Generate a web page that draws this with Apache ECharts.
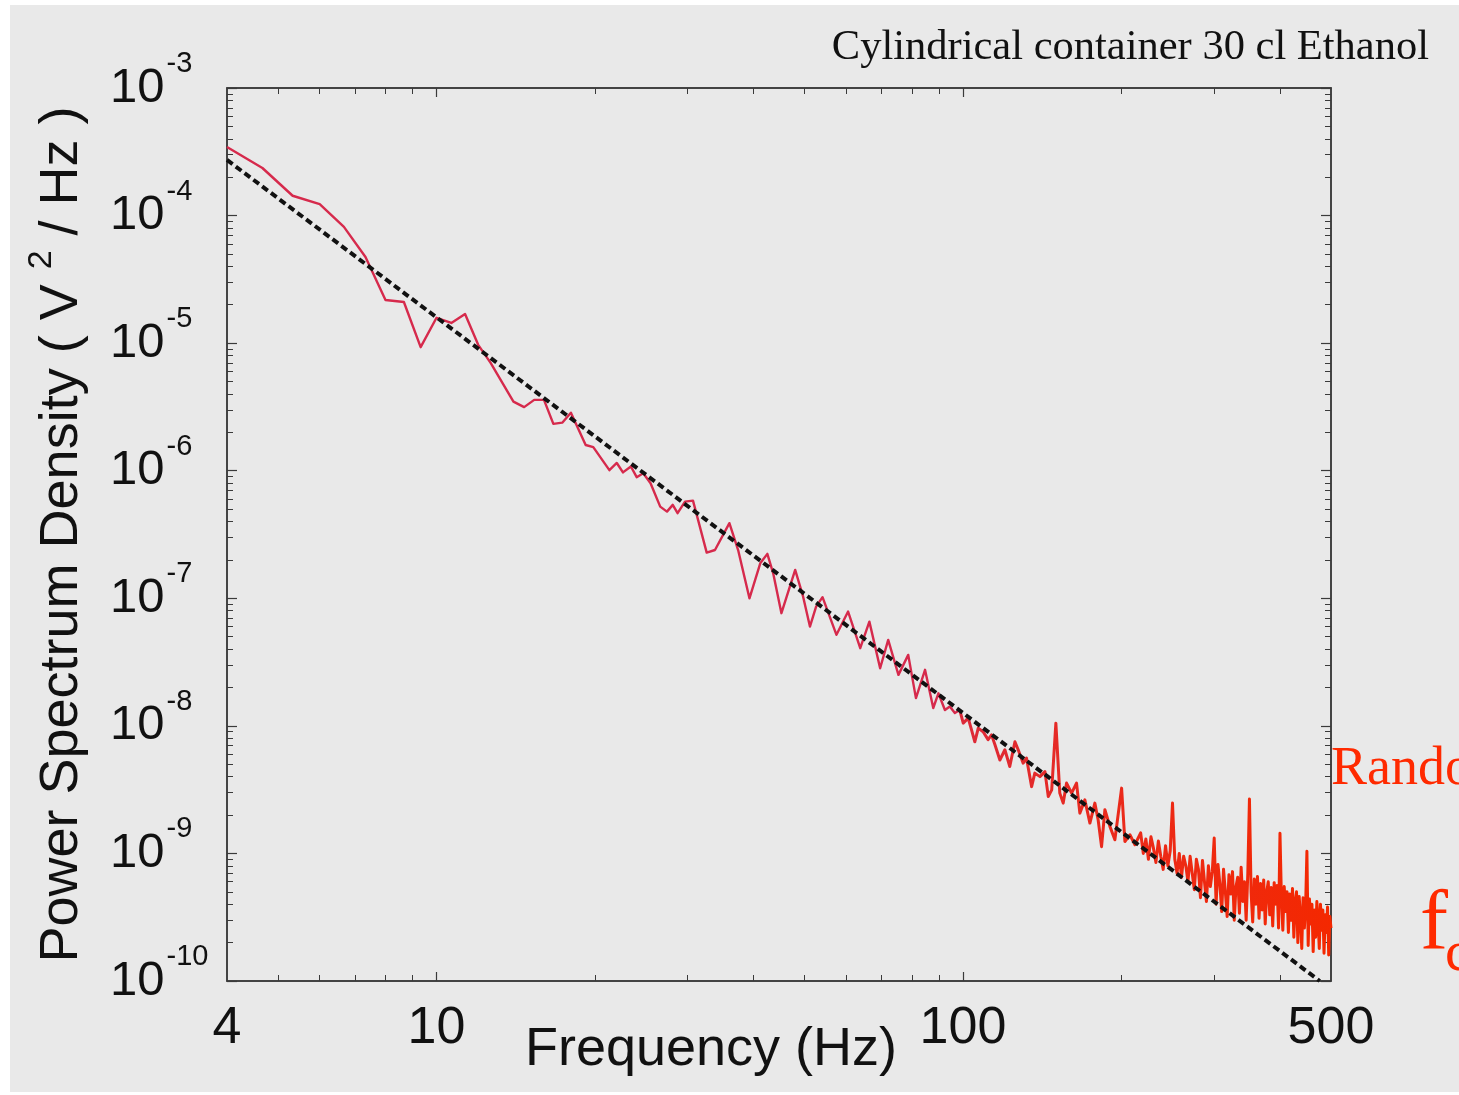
<!DOCTYPE html>
<html>
<head>
<meta charset="utf-8">
<script src="https://cdn.jsdelivr.net/npm/echarts@6.0.0/dist/echarts.min.js"></script>
<style>
html,body{margin:0;padding:0;background:#ffffff;width:1459px;height:1095px;overflow:hidden;}
#panel{position:absolute;left:10px;top:5px;width:1449px;height:1087px;background:#e9e9e9;}
#chart{position:absolute;left:0;top:0;width:1459px;height:1095px;}
</style>
</head>
<body>
<div id="panel"></div>
<div id="chart"></div>
<script>
// ---- data (frequency in Hz, PSD in V^2/Hz) ----
const freqLow = [4.00,4.67,5.33,6.00,6.67,7.33,8.00,8.67,9.33,10.0,10.67,11.33,12.0,12.67,14.0,14.67,15.33,16.0,16.67,17.33,18.0,19.2,19.85,21.3,22.0,22.6,23.4,24.0,24.7,25.5,26.6,27.4,28.1,28.7,29.65,30.7,32.6,33.8,36.0,37.4,39.3,41.2,42.5,43.6,45.2,48.0,49.7,51.2,52.6,54.1,57.5,60.5,63.8,66.4,69.6,72.1,75.4,78.7,81.4,84.7,87.8,89.8,92.4,94.4,96.5,98.6];
const psdLow = [3.45e-4,2.36e-4,1.43e-4,1.23e-4,8.15e-5,4.74e-5,2.18e-5,2.10e-5,9.3e-6,1.58e-5,1.44e-5,1.69e-5,9.7e-6,7.0e-6,3.48e-6,3.15e-6,3.59e-6,3.59e-6,2.33e-6,2.38e-6,2.85e-6,1.59e-6,1.53e-6,1.01e-6,1.15e-6,9.7e-7,1.08e-6,8.9e-7,9.55e-7,7.97e-7,5.23e-7,4.78e-7,5.4e-7,4.65e-7,5.73e-7,5.83e-7,2.28e-7,2.39e-7,3.88e-7,2.39e-7,1.0e-7,1.88e-7,2.23e-7,1.57e-7,7.64e-8,1.67e-7,1.03e-7,6.0e-8,8.6e-8,1.02e-7,5.17e-8,7.87e-8,4.06e-8,6.56e-8,2.83e-8,4.72e-8,2.51e-8,3.6e-8,1.65e-8,2.75e-8,1.38e-8,1.8e-8,1.33e-8,1.42e-8,1.26e-8,1.33e-8];

const freqMid = [100.1,102.3,103.8,105.3,106.9,109.2,111.6,113.3,115.0,117.5,120.1,122.7,125.5,127.3,130.1,132.0,135.0,136.9,140.0,143.1,145.2,147.4,150.1,152.7,155.0,157.3,160.8,164.3,166.7,170.4,174.2,178.0,180.6,183.3,186.0,190.1,194.3,200.1,203.0,207.5,212.1];
const psdMid = [1.05e-8,1.15e-8,9.3e-9,7.5e-9,9.6e-9,9.0e-9,7.8e-9,8.5e-9,7.1e-9,5.4e-9,6.5e-9,4.8e-9,7.5e-9,6.5e-9,5.1e-9,5.6e-9,3.34e-9,4.26e-9,4.0e-9,4.38e-9,2.79e-9,3.15e-9,1.05e-8,2.97e-9,2.48e-9,3.56e-9,2.97e-9,3.56e-9,2.07e-9,2.63e-9,1.73e-9,2.48e-9,1.83e-9,1.13e-9,2.2e-9,1.63e-9,1.28e-9,3.25e-9,1.24e-9,1.40e-9,1.17e-9];

const freqHigh = [
 217.5,220,222.5,225,227.5,230,232.5,235,237.5,240,
 242.5,245,247.5,250,252.5,255,257.5,260,262.5,265,
 267.5,270,272.5,275,277.5,280,282.5,285,287.5,290,
 292.5,295,297.5,300,302.5,305,307.5,310,312.5,315,
 317.5,320,322.5,325,327.5,330,332.5,335,337.5,340,
 342.5,345,347.5,350,352.5,355,357.5,360,362.5,365,
 367.5,370,372.5,375,377.5,380,382.5,385,387.5,390,
 392.5,395,397.5,400,402.5,405,407.5,410,412.5,415,
 417.5,420,422.5,425,427.5,430,432.5,435,437.5,440,
 442.5,445,447.5,450,452.5,455,457.5,460,462.5,465,
 467.5,470,472.5,475,477.5,480,482.5,485,487.5,490,
 492.5,495,497.5,500];
const psdHigh = [
 1.45e-9,1.0e-9,1.3e-9,9.0e-10,1.35e-9,1.1e-9,8.5e-10,1.25e-9,9.5e-10,7.5e-10,
 1.15e-9,8.0e-10,1.05e-9,2.48e-9,9.0e-10,7.0e-10,1.0e-9,6.5e-10,9.5e-10,8.0e-10,
 6.0e-10,9.5e-10,7.0e-10,5.2e-10,9.0e-10,7.5e-10,4.5e-10,8.8e-10,6.0e-10,4.2e-10,
 8.0e-10,5.5e-10,7.2e-10,1.32e-9,4.0e-10,8.2e-10,5.8e-10,3.5e-10,7.5e-10,5.0e-10,
 3.2e-10,6.8e-10,4.8e-10,7.2e-10,3.0e-10,5.5e-10,6.5e-10,3.4e-10,7.8e-10,4.2e-10,
 6.0e-10,3.0e-10,7.0e-10,2.67e-9,5.0e-10,2.9e-10,6.3e-10,4.0e-10,6.6e-10,3.1e-10,
 5.8e-10,3.6e-10,6.2e-10,2.8e-10,5.0e-10,6.0e-10,3.3e-10,5.4e-10,2.7e-10,5.9e-10,
 4.0e-10,5.6e-10,2.6e-10,1.44e-9,4.5e-10,2.5e-10,5.5e-10,3.5e-10,5.0e-10,2.4e-10,
 4.8e-10,3.0e-10,5.3e-10,2.2e-10,4.2e-10,5.0e-10,2.0e-10,4.6e-10,3.2e-10,1.8e-10,
 4.5e-10,2.6e-10,3.9e-10,1.04e-9,1.9e-10,4.4e-10,2.8e-10,4.0e-10,1.7e-10,3.6e-10,
 2.2e-10,4.2e-10,3.0e-10,1.8e-10,4.0e-10,2.5e-10,3.6e-10,1.65e-10,3.3e-10,2.4e-10,
 3.8e-10,1.6e-10,3.2e-10,2.6e-10];

// power-law fit line (dashed), end points
const fitFreq = [4, 476];
const fitPsd = [2.73e-4, 1e-10];

// axis ticks / labels
const xTickLabels = [4, 10, 100, 500];
const xMajorTicks = [10, 100];
const xMinorTicks = [5, 6, 7, 8, 9, 20, 30, 40, 50, 60, 70, 80, 90, 200, 300, 400];
const yMajorTicks = [1e-10, 1e-9, 1e-8, 1e-7, 1e-6, 1e-5, 1e-4, 1e-3];
const yMinorTicks = [];
yMajorTicks.slice(0, -1).forEach(d => { for (let m = 2; m <= 9; m++) yMinorTicks.push(+(m * d).toPrecision(3)); });

const titleText = 'Cylindrical container 30 cl Ethanol';
const xName = 'Frequency (Hz)';
const yName = 'Power Spectrum Density ( V {s|2} / Hz )';

// ---- build ----
const lowPart = freqLow.map((f, i) => [f, psdLow[i]]);
const highPart = [[freqLow[freqLow.length - 1], psdLow[psdLow.length - 1]]]
  .concat(freqMid.map((f, i) => [f, psdMid[i]]))
  .concat(freqHigh.map((f, i) => [f, psdHigh[i]]));
const fit = fitFreq.map((f, i) => [f, fitPsd[i]]);

const chart = echarts.init(document.getElementById('chart'), null, {renderer: 'canvas'});
const frameColor = '#3a3a3a';
const txt = '#111111';
const SANS = '"Liberation Sans", Arial, Helvetica, sans-serif';
const SERIF = '"Liberation Serif", "Times New Roman", serif';

function fmtNum(v) { return String(Number(Number(v).toPrecision(6))); }

const baseX = {type: 'log', logBase: 10, min: 4, max: 500, gridIndex: 0, splitLine: {show: false}};
const baseY = {type: 'log', logBase: 10, min: 1e-10, max: 1e-3, gridIndex: 0, splitLine: {show: false}};

chart.setOption({
  animation: false,
  backgroundColor: 'transparent',
  title: {
    text: titleText, right: 25, top: 21,
    textStyle: {fontFamily: SERIF, fontSize: 42.5, fontWeight: 'normal', color: txt}
  },
  grid: {left: 227, right: 128, top: 88, bottom: 114, containLabel: false, outerBoundsMode: 'none',
         show: true, borderColor: frameColor, borderWidth: 1.5, backgroundColor: 'transparent'},
  xAxis: [
    Object.assign({}, baseX, {
      position: 'bottom',
      axisLine: {show: true, lineStyle: {color: frameColor, width: 1.5}},
      axisTick: {show: true, inside: true, length: 9, customValues: xMajorTicks, lineStyle: {color: frameColor, width: 1.2}},
      axisLabel: {show: true, customValues: xTickLabels, formatter: fmtNum, fontSize: 52, fontFamily: SANS, color: txt, margin: 22},
      name: xName, nameLocation: 'middle', nameGap: 42, nameMoveOverlap: false,
      nameTextStyle: {fontSize: 54, fontFamily: SANS, color: txt, padding: [0, 136, 0, 0]}
    }),
    Object.assign({}, baseX, {
      position: 'bottom',
      axisLine: {show: false},
      axisTick: {show: true, inside: true, length: 6, customValues: xMinorTicks, lineStyle: {color: frameColor, width: 1}},
      axisLabel: {show: false}
    }),
    Object.assign({}, baseX, {
      position: 'top',
      axisLine: {show: true, lineStyle: {color: frameColor, width: 1.5}},
      axisTick: {show: true, inside: true, length: 9, customValues: xMajorTicks, lineStyle: {color: frameColor, width: 1.2}},
      axisLabel: {show: false}
    }),
    Object.assign({}, baseX, {
      position: 'top',
      axisLine: {show: false},
      axisTick: {show: true, inside: true, length: 6, customValues: xMinorTicks, lineStyle: {color: frameColor, width: 1}},
      axisLabel: {show: false}
    })
  ],
  yAxis: [
    Object.assign({}, baseY, {
      position: 'left',
      axisLine: {show: true, lineStyle: {color: frameColor, width: 1.5}},
      axisTick: {show: true, inside: true, length: 10, customValues: yMajorTicks, lineStyle: {color: frameColor, width: 1.2}},
      axisLabel: {
        show: true, customValues: yMajorTicks, align: 'left', margin: 117,
        formatter: v => '{b|10}{e|' + Math.round(Math.log10(v)) + '}',
        rich: {
          b: {fontSize: 49, fontFamily: SANS, color: txt},
          e: {fontSize: 29, fontFamily: SANS, color: txt, padding: [0, 0, 48, 2]}
        }
      },
      name: yName, nameLocation: 'middle', nameGap: 128, nameRotate: 90, nameMoveOverlap: false,
      nameTextStyle: {
        fontSize: 54, fontFamily: SANS, color: txt,
        rich: {s: {fontSize: 34, fontFamily: SANS, color: txt, padding: [0, 0, 40, 0]}}
      }
    }),
    Object.assign({}, baseY, {
      position: 'left',
      axisLine: {show: false},
      axisTick: {show: true, inside: true, length: 6, customValues: yMinorTicks, lineStyle: {color: frameColor, width: 1}},
      axisLabel: {show: false}
    }),
    Object.assign({}, baseY, {
      position: 'right',
      axisLine: {show: true, lineStyle: {color: frameColor, width: 1.5}},
      axisTick: {show: true, inside: true, length: 10, customValues: yMajorTicks, lineStyle: {color: frameColor, width: 1.2}},
      axisLabel: {show: false}
    }),
    Object.assign({}, baseY, {
      position: 'right',
      axisLine: {show: false},
      axisTick: {show: true, inside: true, length: 6, customValues: yMinorTicks, lineStyle: {color: frameColor, width: 1}},
      axisLabel: {show: false}
    })
  ],
  series: [
    {
      type: 'line', xAxisIndex: 0, yAxisIndex: 0, data: lowPart,
      showSymbol: false, symbol: 'none', clip: true, z: 3,
      lineStyle: {width: 2.4, color: '#d62a4c', join: 'round'}
    },
    {
      type: 'line', xAxisIndex: 0, yAxisIndex: 0, data: highPart,
      showSymbol: false, symbol: 'none', clip: true, z: 3,
      lineStyle: {
        width: 3, join: 'round',
        color: new echarts.graphic.LinearGradient(0, 0, 1, 0, [
          {offset: 0, color: '#dc2a3a'},
          {offset: 0.4, color: '#ea2a1c'},
          {offset: 1, color: '#f42800'}
        ])
      }
    },
    {
      type: 'line', xAxisIndex: 0, yAxisIndex: 0, data: fit,
      showSymbol: false, symbol: 'none', clip: true, z: 4,
      lineStyle: {width: 4, color: '#111111', type: [7, 4], cap: 'butt'}
    }
  ],
  graphic: [
    {type: 'text', left: 1331, top: 743, silent: true,
     style: {text: 'Random', font: '54px ' + SERIF, fill: '#ff2a00'}},
    {type: 'text', left: 1420, top: 884, silent: true,
     style: {text: 'f', font: '84px ' + SERIF, fill: '#ff2a00'}},
    {type: 'text', left: 1445, top: 926, silent: true,
     style: {text: 'c', font: '58px ' + SERIF, fill: '#ff2a00'}}
  ]
});
</script>
</body>
</html>
